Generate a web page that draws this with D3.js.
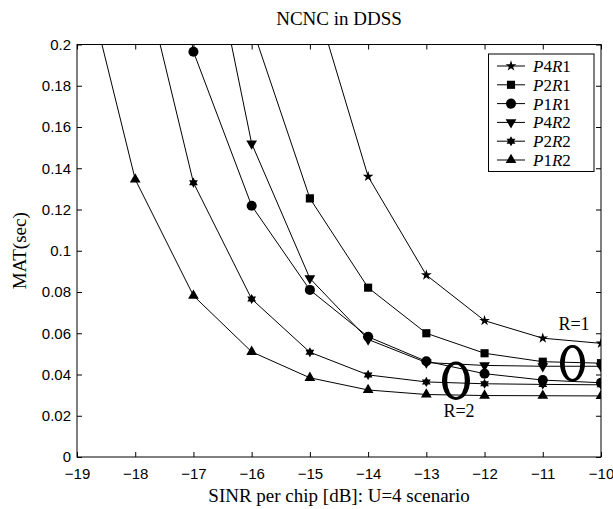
<!DOCTYPE html>
<html>
<head>
<meta charset="utf-8">
<script src="https://cdn.jsdelivr.net/npm/d3@7"></script>
<style>
body { margin: 0; background: #fff; }
svg { display: block; }
</style>
</head>
<body>
<svg class="chart"></svg>
<script>
var sinr = [-19, -18, -17, -16, -15, -14, -13, -12, -11, -10];

// null = no point at that SINR
var p4r1 = [null, null, null, null, 0.230, 0.136, 0.0882, 0.0661, 0.0576, 0.0551];
var p2r1 = [null, null, null, 0.209, 0.1254, 0.0821, 0.0600, 0.0503, 0.0462, 0.0455];
var p1r1 = [null, 0.350, 0.1965, 0.1218, 0.0810, 0.0583, 0.0464, 0.0404, 0.0373, 0.0360];
var p4r2 = [null, null, 0.290, 0.152, 0.0866, 0.0570, 0.0458, 0.0444, 0.0440, 0.0440];
var p2r2 = [null, 0.250, 0.133, 0.0766, 0.0508, 0.0398, 0.0364, 0.0355, 0.0352, 0.0350];
var p1r2 = [0.249, 0.1346, 0.0782, 0.0510, 0.0384, 0.0325, 0.0303, 0.0298, 0.0297, 0.0296];

var seriesNames = ["P4R1", "P2R1", "P1R1", "P4R2", "P2R2", "P1R2"];
var seriesValues = [p4r1, p2r1, p1r1, p4r2, p2r2, p1r2];

var xTicks = [-19, -18, -17, -16, -15, -14, -13, -12, -11, -10];
var yTicks = [0, 0.02, 0.04, 0.06, 0.08, 0.1, 0.12, 0.14, 0.16, 0.18, 0.2];

var width = 613, height = 509;
var plot = {left: 77, right: 601, top: 44.5, bottom: 457};

var x = d3.scaleLinear().domain([-19, -10]).range([plot.left, plot.right]);
var y = d3.scaleLinear().domain([0, 0.2]).range([plot.bottom, plot.top]);

// six-pointed star (matlab 'h')
var symbolHexagram = {
    draw: function(ctx, size) {
        var R = Math.sqrt(size / 1.4), r = R / Math.sqrt(3);
        for (var i = 0; i < 12; i++) {
            var a = Math.PI / 6 * i - Math.PI / 2;
            var rr = i % 2 ? r : R;
            if (i === 0) ctx.moveTo(rr * Math.cos(a), rr * Math.sin(a));
            else ctx.lineTo(rr * Math.cos(a), rr * Math.sin(a));
        }
        ctx.closePath();
    }
};

var markers = [
    {type: d3.symbolStar, size: 36, rot: 0},
    {type: d3.symbolSquare, size: 66, rot: 0},
    {type: d3.symbolCircle, size: 80, rot: 0},
    {type: d3.symbolTriangle, size: 50, rot: 180},
    {type: symbolHexagram, size: 36, rot: 0},
    {type: d3.symbolTriangle, size: 50, rot: 0}
];

var svg = d3.select(".chart")
    .attr("width", width)
    .attr("height", height);

svg.append("defs").append("clipPath")
    .attr("id", "clip")
    .append("rect")
    .attr("x", plot.left).attr("y", plot.top)
    .attr("width", plot.right - plot.left)
    .attr("height", plot.bottom - plot.top);

var tickFont = "'Liberation Sans', Arial, Helvetica, sans-serif";
var serif = "'Liberation Serif', 'Times New Roman', serif";

function styleAxis(g) {
    g.select(".domain").remove();
    g.selectAll(".tick line").attr("stroke", "#000");
    g.selectAll(".tick text")
        .attr("fill", "#000")
        .style("font-family", tickFont)
        .style("font-size", "15px");
}

// X-Axis
svg.append("g")
    .attr("transform", "translate(0," + plot.bottom + ")")
    .call(d3.axisBottom(x).tickValues(xTicks).tickSize(-5).tickPadding(11))
    .call(styleAxis);

svg.append("g")
    .attr("transform", "translate(0," + plot.top + ")")
    .call(d3.axisTop(x).tickValues(xTicks).tickSize(-5).tickFormat(""))
    .call(styleAxis);

// Y-Axis
svg.append("g")
    .attr("transform", "translate(" + plot.left + ",0)")
    .call(d3.axisLeft(y).tickValues(yTicks).tickSize(-5).tickPadding(6)
        .tickFormat(function(d) { return d; }))
    .call(styleAxis);

svg.append("g")
    .attr("transform", "translate(" + plot.right + ",0)")
    .call(d3.axisRight(y).tickValues(yTicks).tickSize(-5).tickFormat(""))
    .call(styleAxis);

svg.append("rect")
    .attr("x", plot.left).attr("y", plot.top)
    .attr("width", plot.right - plot.left)
    .attr("height", plot.bottom - plot.top)
    .attr("fill", "none")
    .attr("stroke", "#000")
    .attr("stroke-width", 1);

var line = d3.line()
    .defined(function(d) { return d.v !== null; })
    .x(function(d) { return x(d.x); })
    .y(function(d) { return y(d.v); });

var lines = svg.append("g").attr("clip-path", "url(#clip)");

seriesValues.forEach(function(vals, i) {
    var pts = vals.map(function(v, j) { return {x: sinr[j], v: v}; });
    lines.append("path")
        .datum(pts)
        .attr("fill", "none")
        .attr("stroke", "#000")
        .attr("stroke-width", 1)
        .attr("d", line);

    var inside = pts.filter(function(d) { return d.v !== null && d.v <= 0.2; });
    lines.selectAll(".m" + i)
        .data(inside)
        .enter().append("path")
        .attr("transform", function(d) {
            return "translate(" + x(d.x) + "," + y(d.v) + ") rotate(" + markers[i].rot + ")";
        })
        .attr("d", d3.symbol().type(markers[i].type).size(markers[i].size))
        .attr("fill", "#000");
});

// title and axis labels
svg.append("text")
    .attr("x", (plot.left + plot.right) / 2)
    .attr("y", 25)
    .attr("text-anchor", "middle")
    .style("font-family", serif)
    .style("font-size", "19px")
    .text("NCNC in DDSS");

svg.append("text")
    .attr("x", (plot.left + plot.right) / 2)
    .attr("y", 502)
    .attr("text-anchor", "middle")
    .style("font-family", serif)
    .style("font-size", "19px")
    .text("SINR per chip [dB]: U=4 scenario");

svg.append("text")
    .attr("transform", "translate(26," + (plot.top + plot.bottom) / 2 + ") rotate(-90)")
    .attr("text-anchor", "middle")
    .style("font-family", serif)
    .style("font-size", "19px")
    .text("MAT(sec)");

// group ellipses with their labels
function ring(cx, cy, rx, ry, ix, iy) {
    function e(a, b) {
        return "M" + (cx - a) + "," + cy +
            "a" + a + "," + b + " 0 1,0 " + (2 * a) + ",0" +
            "a" + a + "," + b + " 0 1,0 " + (-2 * a) + ",0Z";
    }
    return e(rx, ry) + e(ix, iy);
}

svg.append("path")
    .attr("d", ring(572.5, 363.3, 12.5, 18.3, 7.8, 15.6))
    .attr("fill", "#000")
    .attr("fill-rule", "evenodd");

svg.append("path")
    .attr("d", ring(456, 380.8, 14, 19.2, 8.8, 16.3))
    .attr("fill", "#000")
    .attr("fill-rule", "evenodd");

svg.append("text")
    .attr("x", 574).attr("y", 330)
    .attr("text-anchor", "middle")
    .style("font-family", serif)
    .style("font-size", "18px")
    .text("R=1");

svg.append("text")
    .attr("x", 459).attr("y", 417)
    .attr("text-anchor", "middle")
    .style("font-family", serif)
    .style("font-size", "18px")
    .text("R=2");

// legend
var legend = svg.append("g");
legend.append("rect")
    .attr("x", 488.5).attr("y", 54)
    .attr("width", 105.5).attr("height", 117.5)
    .attr("fill", "#fff")
    .attr("stroke", "#000");

seriesNames.forEach(function(name, i) {
    var ly = 66 + i * 18.8;
    legend.append("line")
        .attr("x1", 497).attr("x2", 525)
        .attr("y1", ly).attr("y2", ly)
        .attr("stroke", "#000");
    legend.append("path")
        .attr("transform", "translate(511," + ly + ") rotate(" + markers[i].rot + ")")
        .attr("d", d3.symbol().type(markers[i].type).size(markers[i].size))
        .attr("fill", "#000");
    var t = legend.append("text")
        .attr("x", 533).attr("y", ly)
        .attr("dy", "0.35em")
        .style("font-family", serif)
        .style("font-size", "17px");
    t.append("tspan").style("font-style", "italic").text(name[0]);
    t.append("tspan").text(name[1]);
    t.append("tspan").style("font-style", "italic").text(name[2]);
    t.append("tspan").text(name[3]);
});
</script>
</body>
</html>
